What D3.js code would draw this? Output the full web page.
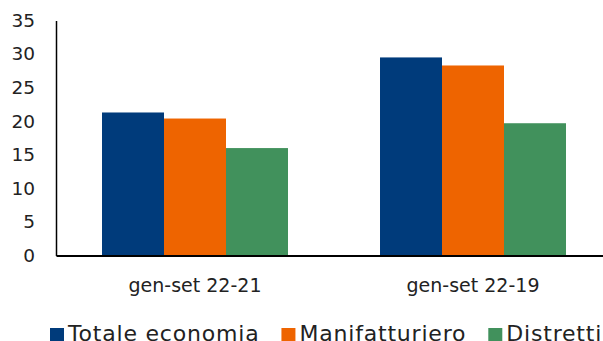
<!DOCTYPE html>
<html>
<head>
<meta charset="utf-8">
<script src="https://cdn.jsdelivr.net/npm/d3@7"></script>
<style>
  html, body { margin: 0; padding: 0; background: #fff; }
  svg { display: block; }
  text { font-family: "DejaVu Sans", sans-serif; fill: #222; }
</style>
</head>
<body>
<svg id="chart" width="603" height="341"></svg>
<script>
const categories = ["gen-set 22-21", "gen-set 22-19"];
const seriesNames = ["Totale economia", "Manifatturiero", "Distretti"];
const totaleEconomia = [21.3, 29.5];
const manifatturiero = [20.4, 28.3];
const distretti = [16.0, 19.7];
const yTicks = [0, 5, 10, 15, 20, 25, 30, 35];
const colors = ["#003B7B", "#EE6400", "#41915C"];

const seriesValues = [totaleEconomia, manifatturiero, distretti];
const data = categories.map((c, i) => ({
  category: c,
  values: seriesNames.map((s, j) => ({ series: s, value: seriesValues[j][i] }))
}));

const svg = d3.select("#chart");
const margin = { left: 56, top: 20.5, bottom: 255.5 };

const x0 = d3.scaleBand()
  .domain(categories)
  .range([margin.left, margin.left + 556])
  .paddingInner(0.331)
  .paddingOuter(0.1655);

const x1 = d3.scaleBand()
  .domain(seriesNames)
  .range([0, x0.bandwidth()])
  .padding(0);

const y = d3.scaleLinear()
  .domain([0, 35])
  .range([margin.bottom, margin.top]);

const color = d3.scaleOrdinal().domain(seriesNames).range(colors);

// bars
const groups = svg.append("g").selectAll("g")
  .data(data)
  .join("g")
  .attr("transform", d => `translate(${x0(d.category)},0)`);

groups.selectAll("rect")
  .data(d => d.values)
  .join("rect")
  .attr("x", d => x1(d.series))
  .attr("width", x1.bandwidth())
  .attr("y", d => y(d.value))
  .attr("height", d => y(0) - y(d.value))
  .attr("fill", d => color(d.series));

// y axis
const yAxis = svg.append("g")
  .attr("transform", `translate(${margin.left},0)`)
  .call(d3.axisLeft(y).tickValues(yTicks).tickSize(0).tickPadding(21).tickSizeOuter(0));
yAxis.select(".domain").attr("stroke", "#000").attr("stroke-width", 1.5);
yAxis.selectAll("text").style("font-size", "18.5px").attr("fill", "#222");

// x axis
const xAxis = svg.append("g")
  .attr("transform", `translate(0,${y(0)})`)
  .call(d3.axisBottom(x0).tickSize(0).tickPadding(23).tickSizeOuter(0));
xAxis.select(".domain").attr("stroke", "#000").attr("stroke-width", 2);
xAxis.selectAll("text").style("font-size", "19px").attr("fill", "#222");

// legend
const legend = svg.append("g");
let lx = 50;
seriesNames.forEach((s, i) => {
  const g = legend.append("g");
  g.append("rect")
    .attr("x", lx).attr("y", 328)
    .attr("width", 14).attr("height", 14)
    .attr("fill", color(s));
  const t = g.append("text")
    .attr("x", lx + 18)
    .attr("y", 341)
    .style("font-size", "22px")
    .style("letter-spacing", "0.8px")
    .text(s);
  const w = t.node().getComputedTextLength();
  lx = lx + 18 + w + 22;
});
</script>
</body>
</html>
